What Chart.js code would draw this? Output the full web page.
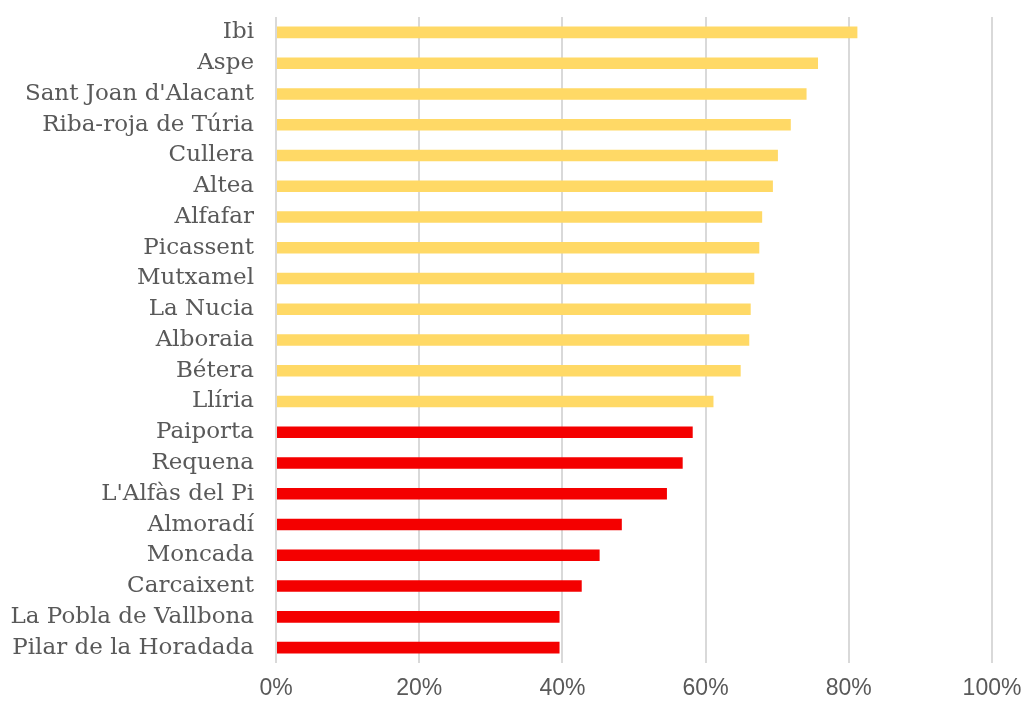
<!DOCTYPE html>
<html>
<head>
<meta charset="utf-8">
<script src="https://cdn.jsdelivr.net/npm/chart.js@4/dist/chart.umd.min.js"></script>
<style>
  html, body { margin: 0; padding: 0; background: #fff; }
  #wrap { width: 1024px; height: 701px; }
</style>
</head>
<body>
<div id="wrap"><canvas id="barChart"></canvas></div>
<script>
// municipalities, top to bottom
const towns = [
  "Ibi", "Aspe", "Sant Joan d'Alacant", "Riba-roja de Túria", "Cullera",
  "Altea", "Alfafar", "Picassent", "Mutxamel", "La Nucia", "Alboraia",
  "Bétera", "Llíria", "Paiporta", "Requena", "L'Alfàs del Pi", "Almoradí",
  "Moncada", "Carcaixent", "La Pobla de Vallbona", "Pilar de la Horadada"
];
// share, in %
const shares = [
  81.2, 75.7, 74.1, 71.9, 70.1,
  69.4, 67.9, 67.5, 66.8, 66.3, 66.1,
  64.9, 61.1, 58.2, 56.8, 54.6, 48.3,
  45.2, 42.7, 39.6, 39.6
];
const xTicks = [0, 20, 40, 60, 80, 100];
const limit = 60;

const barColors = shares.map(v => v >= limit ? "#FFD966" : "#F40000");

const ctx = document.getElementById("barChart").getContext("2d");
const myChart = new Chart(ctx, {
  type: "bar",
  data: {
    labels: towns,
    datasets: [
      {
        data: shares,
        backgroundColor: barColors,
        categoryPercentage: 0.375,
        barPercentage: 1,
      },
    ],
  },
  options: {
    indexAxis: "y",
    responsive: true,
    maintainAspectRatio: false,
    animation: false,
    layout: { padding: { top: 17, right: 32, left: 0, bottom: 0 } },
    plugins: {
      legend: { display: false },
      tooltip: { enabled: false },
    },
    scales: {
      x: {
        min: 0,
        max: 100,
        afterBuildTicks: (axis) => {
          axis.ticks = xTicks.map(v => ({ value: v }));
        },
        afterFit: (axis) => {
          axis.height = 38;
          axis.paddingLeft = 0;
          axis.paddingRight = 0;
        },
        grid: { color: "#D9D9D9", lineWidth: 2, drawTicks: false },
        border: { display: false },
        ticks: {
          padding: 12,
          color: "#595959",
          font: { family: "'Liberation Sans Narrow', 'Liberation Sans'", size: 23 },
          callback: (v) => v + "%",
        },
      },
      y: {
        afterFit: (axis) => {
          axis.width = 276;
          axis.paddingTop = 0;
          axis.paddingBottom = 0;
        },
        grid: { display: false, drawTicks: false },
        border: { display: false },
        ticks: {
          padding: 22,
          color: "#595959",
          font: { family: "'DejaVu Serif'", size: 23 },
        },
      },
    },
  },
});
</script>
</body>
</html>
